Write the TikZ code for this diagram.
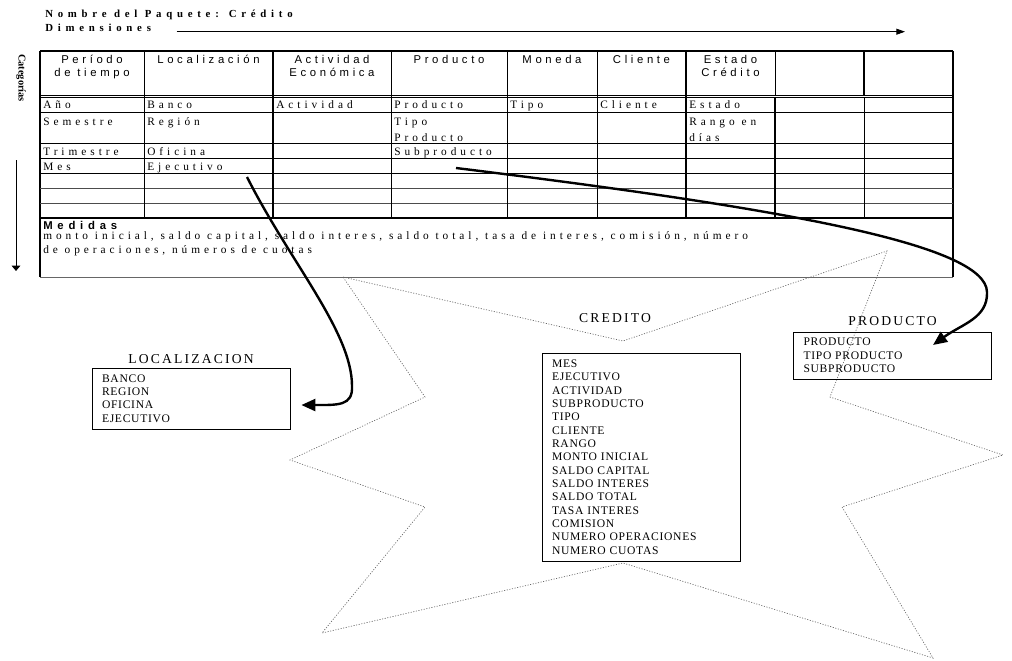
\documentclass[tikz,border=0pt]{standalone}
\usepackage{fontspec}
\usepackage{tikz}
\usetikzlibrary{arrows.meta, positioning}
\setmainfont{Liberation Serif}
\newfontfamily\titulofont[LetterSpace=44]{Liberation Serif}
\newfontfamily\encabfont[LetterSpace=32]{Liberation Sans}
\newfontfamily\celdafont[LetterSpace=35]{Liberation Serif}
\newfontfamily\medidafont[LetterSpace=42]{Liberation Sans}
\newfontfamily\cajafont[LetterSpace=6]{Liberation Serif}
\newfontfamily\nombrefont[LetterSpace=16]{Liberation Serif}
\tikzstyle{titulo} = [anchor=base west, inner sep=0pt, font=\titulofont\bfseries\fontsize{8.1pt}{10pt}\selectfont]
\tikzstyle{encab} = [anchor=base, inner sep=0pt, align=center, font=\encabfont\fontsize{8.5pt}{9.75pt}\selectfont]
\tikzstyle{celda} = [anchor=base west, inner sep=0pt, align=left, font=\celdafont\fontsize{8.5pt}{12pt}\selectfont]
\tikzstyle{medida} = [anchor=base west, inner sep=0pt, font=\medidafont\bfseries\fontsize{8.5pt}{10pt}\selectfont]
\tikzstyle{caja} = [rectangle, draw=black, line width=0.6pt, text width=133.5pt, inner xsep=7.5pt, inner ysep=0pt, align=left, font=\cajafont\fontsize{8.7pt}{10pt}\selectfont]
\tikzstyle{nombre} = [inner sep=0pt, font=\nombrefont\fontsize{10.2pt}{12pt}\selectfont]
\tikzstyle{flecha} = [line width=1.8pt, -{Triangle[length=10.5pt, width=9pt]}]
\tikzstyle{flechafina} = [line width=0.6pt, -{Triangle[length=6.5pt, width=4.5pt]}]
\tikzstyle{estrella} = [black!60, line width=0.5pt, dash pattern=on 0.8pt off 1.2pt]
\tikzstyle{grueso} = [line width=1.6pt]
\tikzstyle{fino} = [line width=0.6pt]

\begin{document}
\begin{tikzpicture}[x=0.75pt, y=-0.75pt]
\useasboundingbox (0,0) rectangle (1012,660);

% titulo y dimensiones
\node (paquete) [titulo] at (45,17.3) {Nombre del Paquete: Crédito};
\node (dimen) [titulo] at (45,31.7) {Dimensiones};
\coordinate (dimfin) at (905,31.7);
\draw [flechafina] ([xshift=19pt]dimen.base east) -- (dimfin);
\node (cat) [rotate=-90, inner sep=0pt, font=\bfseries\fontsize{7.8pt}{9pt}\selectfont] at (21,78) {Categorías};
\coordinate (catini) at (16,160);
\coordinate (catfin) at (16,271);
\draw [line width=0.6pt, -{Triangle[length=4pt, width=6.5pt]}] (catini) -- (catfin);

% estrella
\draw [estrella] (343,277) -- (623,341) -- (887,251) -- (830,397) -- (1003,455) -- (842,507) -- (933,658) -- (623,563) -- (322,633) -- (425,507) -- (290,460) -- (425,397) -- cycle;

% tabla
\draw [grueso] (40,51) -- (953,51);
\draw [grueso] (40,51) -- (40,277);
\draw [grueso] (953,51) -- (953,277);
\draw [fino, black!60] (40,277) -- (953,277);
\draw [fino] (40,95) -- (953,95);
\draw [fino] (40,97.5) -- (953,97.5);
\draw [fino] (40,112) -- (953,112);
\draw [fino] (40,143) -- (953,143);
\draw [fino] (40,158) -- (953,158);
\draw [fino] (40,173) -- (953,173);
\draw [fino, black!70] (40,188) -- (953,188);
\draw [fino, black!70] (40,203) -- (953,203);
\draw [grueso] (40,218) -- (953,218);
\draw [fino] (144,51) -- (144,218);
\draw [grueso] (273,51) -- (273,218);
\draw [fino] (391,51) -- (391,218);
\draw [fino] (507,51) -- (507,218);
\draw [fino] (597,51) -- (597,218);
\draw [grueso] (686,51) -- (686,218);
\draw [fino] (775,51) -- (775,95);
\draw [grueso] (775,97.5) -- (775,218);
\draw [grueso] (864,51) -- (864,95);
\draw [fino] (864,97.5) -- (864,218);

% encabezados (base = ultima linea)
\node (h1) [encab] at (92,76.5) {Período\\de tiempo};
\node (h2) [encab] at (208.5,63.5) {Localización};
\node (h3) [encab] at (332,76.5) {Actividad\\Económica};
\node (h4) [encab] at (449,63.5) {Producto};
\node (h5) [encab] at (552,63.5) {Moneda};
\node (h6) [encab] at (641.5,63.5) {Cliente};
\node (h7) [encab] at (730.5,76.5) {Estado\\Crédito};

% categorias
\node (c1a) [celda] at (43,108.3) {Año};
\node (c2a) [celda] at (147,108.3) {Banco};
\node (c3a) [celda] at (276,108.3) {Actividad};
\node (c4a) [celda] at (394,108.3) {Producto};
\node (c5a) [celda] at (510,108.3) {Tipo};
\node (c6a) [celda] at (600,108.3) {Cliente};
\node (c7a) [celda] at (689,108.3) {Estado};
\node (c1b) [celda] at (43,125) {Semestre};
\node (c2b) [celda] at (147,125) {Región};
\node (c4b) [celda] at (394,141) {Tipo\\Producto};
\node (c7b) [celda] at (689,141) {Rango en\\días};
\node (c1c) [celda] at (43,155.5) {Trimestre};
\node (c2c) [celda] at (147,155.5) {Oficina};
\node (c4c) [celda] at (394,155.5) {Subproducto};
\node (c1d) [celda] at (43,170.7) {Mes};
\node (c2d) [celda] at (147,170.7) {Ejecutivo};

% medidas
\node (med) [medida] at (43,229) {Medidas};
\node (medtxt) [celda, font=\celdafont\fontsize{8.5pt}{10.5pt}\selectfont] at (43,253.5) {monto inicial, saldo capital, saldo interes, saldo total, tasa de interes, comisión, número\\de operaciones, números de cuotas};

% dimensiones
\node (loc) [caja, minimum height=45.75pt] at (191,398.5) {BANCO\\REGION\\OFICINA\\EJECUTIVO};
\node (loctit) [nombre, above=3pt of loc] {LOCALIZACION};
\node (cred) [caja, minimum height=156pt] at (641,457) {MES\\EJECUTIVO\\ACTIVIDAD\\SUBPRODUCTO\\TIPO\\CLIENTE\\RANGO\\MONTO INICIAL\\SALDO CAPITAL\\SALDO INTERES\\SALDO TOTAL\\TASA INTERES\\COMISION\\NUMERO OPERACIONES\\NUMERO CUOTAS};
\node (credtit) [nombre] at (615,318) {CREDITO};
\node (prod) [caja, minimum height=35.25pt] at (892.5,355.5) {PRODUCTO\\TIPO PRODUCTO\\SUBPRODUCTO};
\node (prodtit) [nombre, above=4pt of prod] {PRODUCTO};

% flechas
\coordinate (ejpunto) at (247,177);
\coordinate (prpunto) at (456,168);
\draw [flecha] (ejpunto) .. controls (290,262) and (352,332) .. (352,386) .. controls (353,406) and (338,405) .. ([xshift=8.25pt,yshift=-4.9pt]loc.east);
\draw [flecha] (prpunto) .. controls (780,208) and (986,244) .. (987,292) .. controls (988,318) and (962,324) .. ([xshift=30.4pt,yshift=7.9pt]prod.center);
\end{tikzpicture}
\end{document}
